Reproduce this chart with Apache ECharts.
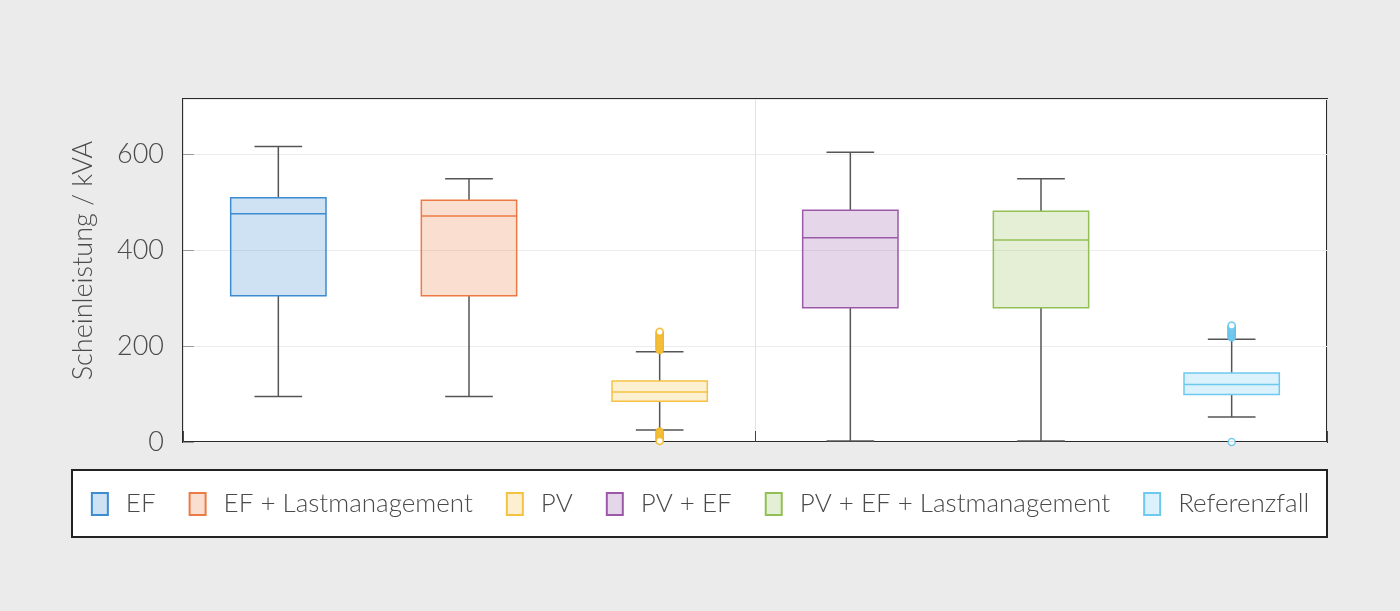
<!DOCTYPE html>
<html>
<head>
<meta charset="utf-8">
<script src="https://cdn.jsdelivr.net/npm/echarts@6/dist/echarts.min.js"></script>
<style>
  html, body { margin: 0; padding: 0; background: #ebebeb; }
  #chart { width: 1400px; height: 611px; }
</style>
</head>
<body>
<div id="chart"></div>
<script>
// Boxplot statistics per scenario (kVA)
const categories = ['EF', 'EF + Lastmanagement', 'PV', 'PV + EF', 'PV + EF + Lastmanagement', 'Referenzfall']
const minValues = [95, 95, 25, 2, 2, 52]
const q1Values = [305, 305, 85, 280, 280, 99]
const medianValues = [476, 471, 104, 426, 421, 120]
const q3Values = [509, 504, 127, 483, 481, 144]
const maxValues = [616, 549, 188, 604, 549, 214]

// outliers
const pvUpperOutliers = [192, 194, 196, 198, 200, 202, 204, 206, 208, 210, 212, 214, 216, 218, 220, 222, 224, 226, 228, 230]
const pvLowerOutliers = [22, 20, 18, 16, 14, 12, 10, 8, 6, 4, 2]
const refUpperOutliers = [218, 220, 222, 224, 226, 228, 230, 232, 234, 236, 238, 240, 243]
const refLowerOutliers = [0]

const yTicks = [0, 200, 400, 600]

const strokeColors = ['#3d8bd0', '#ec7a45', '#f5c243', '#9b5aa8', '#93bf57', '#6ec9ee']
const fillColors = [
  'rgba(61,139,208,0.25)',
  'rgba(236,122,69,0.25)',
  'rgba(245,194,67,0.25)',
  'rgba(155,90,168,0.25)',
  'rgba(147,191,87,0.25)',
  'rgba(110,201,238,0.25)'
]

const fontFamily = 'Lato, "Open Sans", sans-serif'
const textColor = '#4a4a4a'

function renderBox(stroke, fill) {
  return function(params, api) {
    const x = api.value(0)
    const pMin = api.coord([x, api.value(1)])
    const pQ1 = api.coord([x, api.value(2)])
    const pMed = api.coord([x, api.value(3)])
    const pQ3 = api.coord([x, api.value(4)])
    const pMax = api.coord([x, api.value(5)])
    const band = api.size([1, 0])[0]
    const half = band * 0.25
    const cap = band * 0.125
    const cx = pMed[0]
    const whisker = { stroke: '#555', lineWidth: 1.5 }
    return {
      type: 'group',
      children: [
        { type: 'line', shape: { x1: cx, y1: pQ3[1], x2: cx, y2: pMax[1] }, style: whisker },
        { type: 'line', shape: { x1: cx, y1: pQ1[1], x2: cx, y2: pMin[1] }, style: whisker },
        { type: 'line', shape: { x1: cx - cap, y1: pMax[1], x2: cx + cap, y2: pMax[1] }, style: whisker },
        { type: 'line', shape: { x1: cx - cap, y1: pMin[1], x2: cx + cap, y2: pMin[1] }, style: whisker },
        {
          type: 'rect',
          shape: { x: cx - half, y: pQ3[1], width: half * 2, height: pQ1[1] - pQ3[1] },
          style: { fill: fill, stroke: stroke, lineWidth: 1.5 }
        },
        {
          type: 'line',
          shape: { x1: cx - half, y1: pMed[1], x2: cx + half, y2: pMed[1] },
          style: { stroke: stroke, lineWidth: 1.5 }
        }
      ]
    }
  }
}

const series = categories.map((name, i) => ({
  name: name,
  type: 'custom',
  xAxisIndex: 0,
  renderItem: renderBox(strokeColors[i], fillColors[i]),
  itemStyle: { color: fillColors[i], borderColor: strokeColors[i], borderWidth: 2 },
  encode: { x: 0, y: [1, 2, 3, 4, 5] },
  data: [[i, minValues[i], q1Values[i], medianValues[i], q3Values[i], maxValues[i]]],
  z: 3
}))

function outlierSeries(name, values, color) {
  return {
    name: name,
    type: 'scatter',
    xAxisIndex: 0,
    symbol: 'circle',
    symbolSize: 7,
    clip: false,
    itemStyle: { color: '#fff', borderColor: color, borderWidth: 1.5 },
    data: values.map(v => [name, v]),
    z: 4
  }
}

series.push(outlierSeries('PV', pvUpperOutliers, '#f1b41e'))
series.push(outlierSeries('PV', pvLowerOutliers, '#f1b41e'))
series.push(outlierSeries('Referenzfall', refUpperOutliers, '#5bbfea'))
series.push(outlierSeries('Referenzfall', refLowerOutliers, '#5bbfea'))

const chart = echarts.init(document.getElementById('chart'))
chart.setOption({
  backgroundColor: '#ebebeb',
  animation: false,
  graphic: [{
    type: 'rect',
    shape: { x: 72, y: 470, width: 1255, height: 67 },
    style: { fill: '#fff', stroke: '#222', lineWidth: 2 },
    z: -1
  }],
  legend: {
    data: categories.map((name, i) => ({
      name: name,
      icon: 'rect',
      itemStyle: { color: fillColors[i], borderColor: strokeColors[i], borderWidth: 2 }
    })),
    left: 'center',
    top: 486,
    itemWidth: 16,
    itemHeight: 22,
    itemGap: 33,
    selectedMode: false,
    textStyle: {
      fontFamily: fontFamily,
      fontWeight: 300,
      fontSize: 26,
      color: textColor,
      padding: [0, 0, 0, 13]
    }
  },
  grid: {
    left: 183,
    right: 73,
    top: 99,
    bottom: 169,
    show: true,
    backgroundColor: '#fff',
    borderColor: '#2a2a2a',
    borderWidth: 2
  },
  xAxis: [{
    type: 'category',
    data: categories,
    position: 'bottom',
    axisLine: { show: false },
    axisTick: { show: false },
    axisLabel: { show: false },
    splitLine: { show: false }
  }, {
    type: 'category',
    data: ['', ''],
    position: 'bottom',
    axisLine: { show: false },
    axisLabel: { show: false },
    axisTick: { show: true, inside: true, length: 11, lineStyle: { color: '#444', width: 1 } },
    splitLine: { show: true, lineStyle: { color: '#e2e2e2', width: 1 } }
  }],
  yAxis: {
    type: 'value',
    min: yTicks[0],
    max: 715,
    interval: yTicks[1] - yTicks[0],
    name: 'Scheinleistung / kVA',
    nameLocation: 'middle',
    nameGap: 86,
    nameTextStyle: {
      fontFamily: fontFamily,
      fontWeight: 300,
      fontSize: 27,
      color: textColor,
      padding: [0, 0, 0, 20]
    },
    axisLine: { show: false },
    axisTick: { show: true, inside: true, length: 11, lineStyle: { color: '#999' } },
    axisLabel: {
      showMaxLabel: false,
      margin: 19,
      fontFamily: fontFamily,
      fontWeight: 300,
      fontSize: 27,
      color: textColor
    },
    splitLine: { show: true, lineStyle: { color: '#ececec' } }
  },
  series: series
})
</script>
</body>
</html>
